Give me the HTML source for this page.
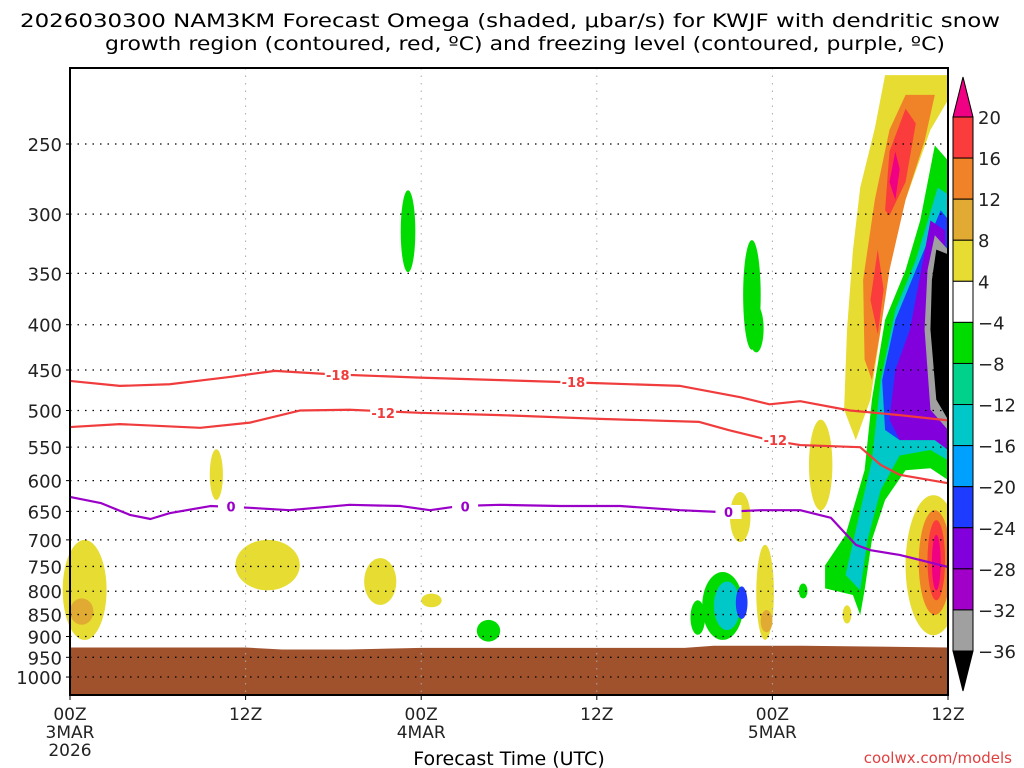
<!DOCTYPE html>
<html><head><meta charset="utf-8"><style>
html,body{margin:0;padding:0;background:#fff}
svg{display:block}
text{font-family:"DejaVu Sans","Liberation Sans",sans-serif}
</style></head><body>
<svg id="chart" width="1024" height="768" viewBox="0 0 1024 768" xmlns="http://www.w3.org/2000/svg">
<text x="510" y="27" font-size="19" text-anchor="middle" textLength="980" lengthAdjust="spacingAndGlyphs">2026030300 NAM3KM Forecast Omega (shaded, μbar/s) for KWJF with dendritic snow</text>
<text x="525" y="50" font-size="19" text-anchor="middle" textLength="840" lengthAdjust="spacingAndGlyphs">growth region (contoured, red, ºC) and freezing level (contoured, purple, ºC)</text>
<g id="shade"></g>
<g id="grid"></g>
<g id="lines"></g>
<g id="axes"></g>
<g id="cbar"></g>
<text x="509" y="765" font-size="19" text-anchor="middle">Forecast Time (UTC)</text>
<text x="1012" y="763" font-size="15" text-anchor="end" fill="#e04040">coolwx.com/models</text>
</svg>
<script>
// ---- data ----
const pressureTicks = [250,300,350,400,450,500,550,600,650,700,750,800,850,900,950,1000];
const timeTicks = [0,12,24,36,48,60];
const timeLabels = ["00Z","12Z","00Z","12Z","00Z","12Z"];
const dateLabels = ["3MAR","","4MAR","","5MAR",""];
const yearLabels = ["2026","","","","",""];
const levelValues = [20,16,12,8,4,-4,-8,-12,-16,-20,-24,-28,-32,-36];
const levelColors = ["#fa3c3c","#f08228","#e1aa32","#e6dc32","#ffffff","#00dc00","#00d28c","#00c8c8","#00a0ff","#1e3cff","#8200dc","#a000c8","#a0a0a0"];
const topColor = "#f00082", bottomColor = "#000000";

const minus18Hours = [0,3.4,6.8,11,14,17.8,23.9,29.4,34.9,41.7,45.8,47.8,49.9,53.3,56.7,60];
const minus18Press = [463,469,467,458,451,455,459,462,465,469,483,492,488,500,506,513];
const minus12Hours = [0,3.4,8.9,12.3,15.7,19.1,23.9,29.4,36.2,43,45,47.8,49.9,54,55.4,56.7,60];
const minus12Press = [522,518,523,516,500,499,503,506,511,515,526,540,547,550,576,591,604];
const freezeHours = [0,2.1,4.1,5.5,6.8,9.6,12.3,15,19.1,22.6,24.6,26.6,29.4,33.5,37.6,41.7,44.4,47.2,49.9,52,53.7,54.7,56.7,60];
const freezePress = [626,636,656,663,653,641,644,648,639,641,648,641,639,641,641,648,651,648,648,661,709,719,728,751];
const labels18 = [[18.3,456],[34.4,464]];
const labels12 = [[21.4,503],[48.2,540]];
const labels0 = [[11,642],[27,642],[45,651]];

const terrainHours = [0,12,14.5,19,24,42,44,50,60];
const terrainPress = [926,926,931,931,927,927,922,922,926];

// blobs: [hour, halfWidthHours, topPressure, bottomPressure, colorIndex]
const blobs = [
 [23.1,0.5,282,349,5],[46.6,0.6,321,427,5],[46.9,0.5,380,430,5],
 [10,0.45,553,631,3],[13.5,2.2,700,798,3],[21.2,1.1,734,829,3],[24.7,0.7,805,834,3],
 [28.6,0.8,862,912,5],[1.0,1.5,700,908,3],[0.8,0.8,815,873,2],
 [45.8,0.7,618,704,3],[47.5,0.6,709,908,3],[47.6,0.4,840,890,2],
 [44.6,1.4,761,908,5],[44.9,0.9,780,885,7],[45.9,0.4,790,860,9],
 [42.9,0.5,819,896,5],[51.3,0.8,512,648,3],[50.1,0.3,784,815,5],[53.1,0.3,830,870,3],
 [59.0,1.9,623,897,3],[59.1,1.1,648,851,1],[59.2,0.6,665,819,0],[59.2,0.3,691,798,-1]
];
// polygons: hours & pressures
const polyYellowH=[55.7,60,60,58.8,57.1,56,55.4,54.7,53.7,52.9,53.1,53.5,54,55];
const polyYellowP=[209,209,223,241,289,338,405,486,540,499,405,330,280,240];
const polyOrangeH=[57.1,59.1,58.4,57.1,56,55.4,54.8,54.3,54.2,55.0,56.0];
const polyOrangeP=[220,220,248,289,347,405,462,438,356,289,241];
const polyRedH=[57.1,57.8,57.1,56,55.7,56];
const polyRedP=[228,237,276,301,297,255];
const polyRed2H=[55.2,55.6,55.2,54.7];
const polyRed2P=[329,365,410,375];
const polyMagH=[56.4,56.7,56.4,56];
const polyMagP=[255,267,289,276];
const polyGreenH=[59.1,60,60,58.8,57.1,55.7,54.8,54.3,54,53.5,51.6,51.6,53,54.3,54.8,55.7,57.1,58.1];
const polyGreenP=[251,261,599,581,584,631,700,798,851,808,794,748,691,584,486,395,347,305];
const polyCyanH=[59.3,60,60,58.8,56.7,55.4,54.5,54,53,53.7,54.8,55.4,56.4,57.8];
const polyCyanP=[280,285,569,554,562,615,700,798,767,682,569,462,385,338];
const polyBlueH=[59.5,60,60,58.8,56.7,55.7,55.5,56.4,57.8];
const polyBlueP=[297,304,540,533,540,526,462,395,347];
const polyPurpH=[58.8,59.8,60,59.1,57.8,56.7,56,56.4,57.4,58.3];
const polyPurpP=[305,313,554,540,540,540,512,450,405,338];
const polyGrayH=[59.1,60,60,58.8,58.4,58.6];
const polyGrayP=[317,329,526,499,405,347];
const polyBlackH=[59.2,60,60,59.2,58.8,58.9];
const polyBlackP=[329,333,512,486,405,356];

// ---- axes functions ----
const X0=70,X1=948,Y0=68,Y1=695;
const xs=h=>X0+(X1-X0)*h/60;
const ys=p=>144+384.5*Math.log(p/250);
const NS="http://www.w3.org/2000/svg";
function mk(tag,parent,attrs){const e=document.createElementNS(NS,tag);for(const k in attrs)e.setAttribute(k,attrs[k]);parent.appendChild(e);return e;}
const colorOf=i=>i<0?topColor:levelColors[i];

const shade=document.getElementById('shade');
let tp=`M${xs(0)},${Y1} `+terrainHours.map((h,i)=>`L${xs(h)},${ys(terrainPress[i])}`).join(' ')+` L${xs(60)},${Y1} Z`;
let terr=mk('path',shade,{d:tp,fill:'#a0522d'});



function poly(H,P,ci,name){
  const pts=H.map((h,i)=>xs(h)+','+ys(P[i])).join(' ');
  const e=mk('polygon',shade,{points:pts,fill:colorOf(ci)});
  
  
}
poly(polyYellowH,polyYellowP,3,'omega-positive-4');
poly(polyOrangeH,polyOrangeP,1,'omega-positive-12');
poly(polyRedH,polyRedP,0,'omega-positive-16');
poly(polyRed2H,polyRed2P,0,'omega-positive-16-b');
poly(polyMagH,polyMagP,-1,'omega-positive-20');
poly(polyGreenH,polyGreenP,5,'omega-negative-4');
poly(polyCyanH,polyCyanP,7,'omega-negative-12');
poly(polyBlueH,polyBlueP,9,'omega-negative-20');
poly(polyPurpH,polyPurpP,10,'omega-negative-24');
poly(polyGrayH,polyGrayP,12,'omega-negative-32');
poly(polyBlackH,polyBlackP,13,'omega-negative-36');
blobs.forEach(b=>{
  const y1=ys(b[2]),y2=ys(b[3]);
  const e=mk('ellipse',shade,{cx:xs(b[0]),cy:(y1+y2)/2,rx:(X1-X0)*b[1]/60,ry:(y2-y1)/2,fill:colorOf(b[4])});
  
  
});
// clip shading at right border
mk('rect',shade,{x:X1,y:Y0,width:5,height:Y1-Y0,fill:'#fff'});

const grid=document.getElementById('grid');
pressureTicks.forEach(p=>{
  const l=mk('line',grid,{x1:X0,x2:X1,y1:ys(p),y2:ys(p),stroke:'#000','stroke-width':1.3,'stroke-dasharray':'1.5 6'});
  
  
});
timeTicks.slice(1,5).forEach(t=>{
  const l=mk('line',grid,{x1:xs(t),x2:xs(t),y1:Y0,y2:Y1,stroke:'#aaa','stroke-width':1,'stroke-dasharray':'1.5 6'});
  
  
});

const lines=document.getElementById('lines');
function line(H,P,color,name){
  const d=H.map((h,i)=>(i?'L':'M')+xs(h)+','+ys(P[i])).join(' ');
  const e=mk('path',lines,{d:d,fill:'none',stroke:color,'stroke-width':2.2,'stroke-linejoin':'round'});
  
  
}
line(minus18Hours,minus18Press,'#f03c3c','contour-minus-18');
line(minus12Hours,minus12Press,'#f03c3c','contour-minus-12');
line(freezeHours,freezePress,'#9a00c8','freezing-level-contour');
function clabel(arr,txt,color){
  arr.forEach(a=>{
    const x=xs(a[0]),y=ys(a[1]);
    mk('rect',lines,{x:x-13,y:y-7,width:26,height:14,fill:'#fff'});
    const t=mk('text',lines,{x:x,y:y+5,'font-size':13,'font-weight':'bold','text-anchor':'middle',fill:color});
    t.textContent=txt;
    
    
  });
}
clabel(labels18,'-18','#f03c3c');
clabel(labels12,'-12','#f03c3c');
clabel(labels0,'0','#9a00c8');

const axes=document.getElementById('axes');
mk('rect',axes,{x:X0,y:Y0,width:X1-X0,height:Y1-Y0,fill:'none',stroke:'#000','stroke-width':2});
pressureTicks.forEach(p=>{
  mk('line',axes,{x1:X0-4,x2:X0,y1:ys(p),y2:ys(p),stroke:'#000'});
  const t=mk('text',axes,{x:X0-8,y:ys(p)+7,'font-size':18,'text-anchor':'end',fill:'#222'});
  t.textContent=p;
  
  
});
timeTicks.forEach((tt,i)=>{
  const x=xs(tt);
  mk('line',axes,{x1:x,x2:x,y1:Y1,y2:Y1+5,stroke:'#000'});
  [timeLabels[i],dateLabels[i],yearLabels[i]].forEach((s,j)=>{
    if(!s)return;
    const t=mk('text',axes,{x:x,y:720+j*18,'font-size':17,'text-anchor':'middle',fill:'#222'});
    t.textContent=s;
    
    
  });
});

const cb=document.getElementById('cbar');
const CX=953,CW=20,CT=117,CB=651,bh=(CB-CT)/levelColors.length;
mk('polygon',cb,{points:`${CX},${CT} ${CX+CW},${CT} ${CX+CW/2},${CT-40}`,fill:topColor,stroke:'#000'});
mk('polygon',cb,{points:`${CX},${CB} ${CX+CW},${CB} ${CX+CW/2},${CB+40}`,fill:bottomColor,stroke:'#000'});
levelColors.forEach((c,i)=>{
  const r=mk('rect',cb,{x:CX,y:CT+i*bh,width:CW,height:bh,fill:c,stroke:'#000','stroke-width':1});
  
  
});
levelValues.forEach((v,i)=>{
  const t=mk('text',cb,{x:978,y:CT+i*bh+7,'font-size':18,fill:'#222'});
  t.textContent=v<0?'\u2212'+(-v):String(v);
  
  
});
</script>
</body></html>
